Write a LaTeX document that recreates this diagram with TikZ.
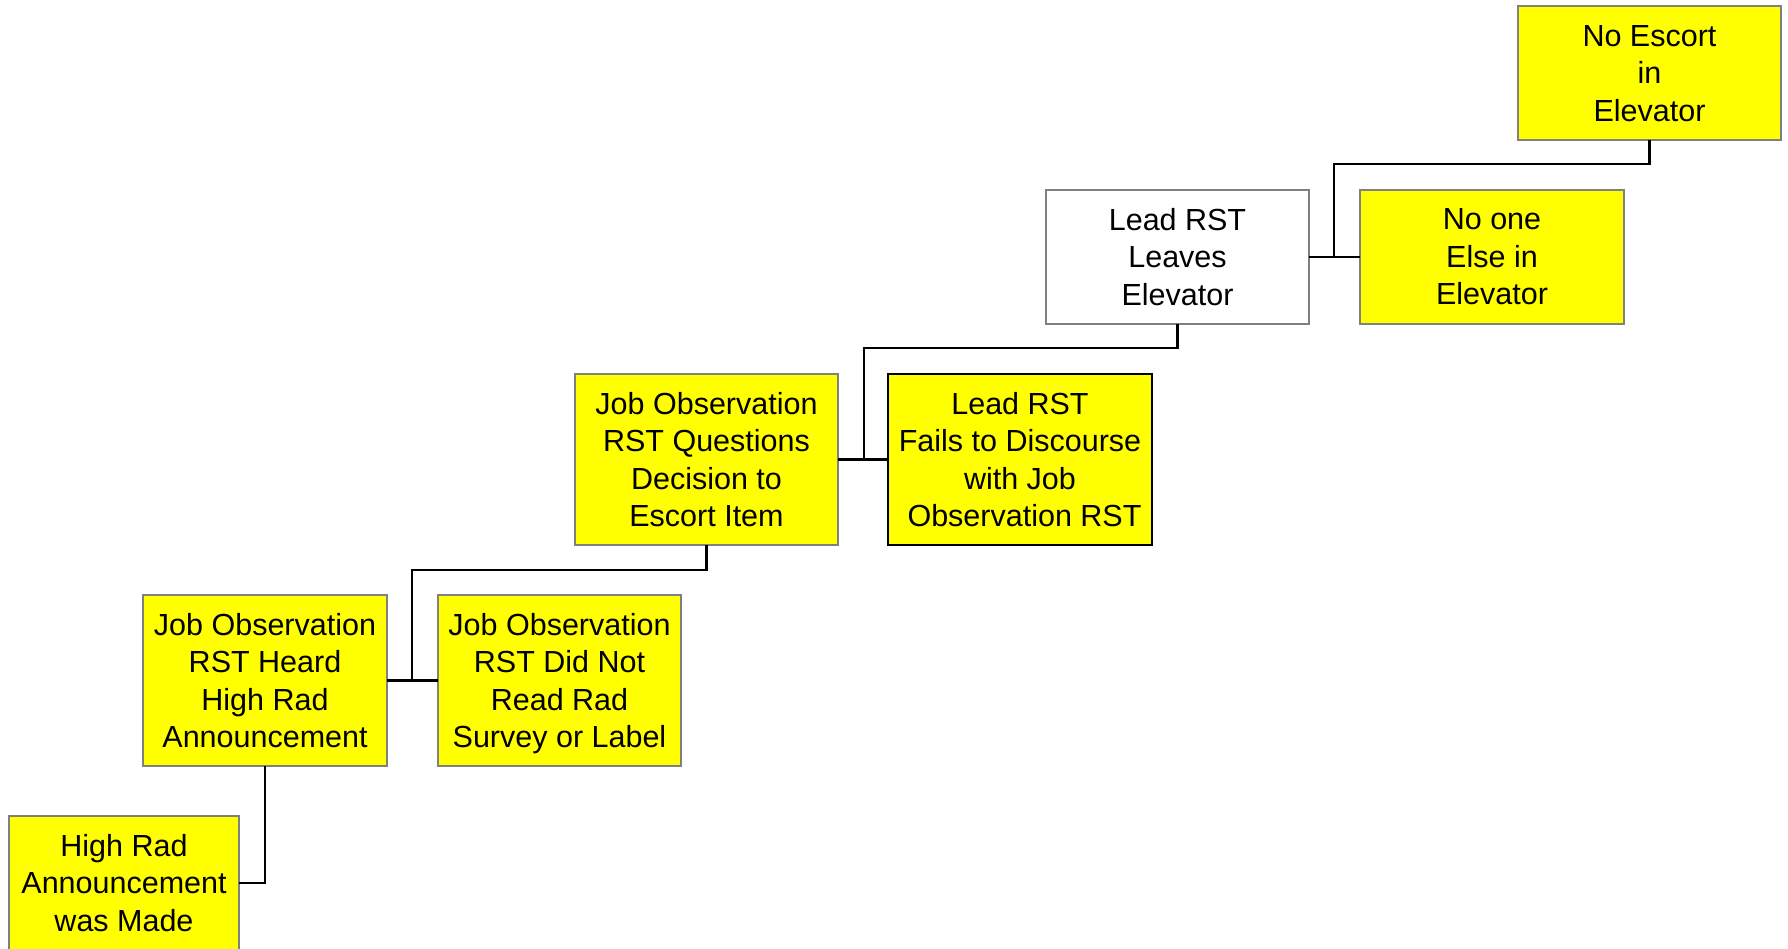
\documentclass[tikz,border=0pt]{standalone}
\usepackage{fontspec}
\setmainfont{Liberation Sans}
\definecolor{boxyellow}{RGB}{255,255,0}
\definecolor{boxgray}{RGB}{128,128,128}

\begin{document}
\begin{tikzpicture}[x=1pt,y=-1pt,line cap=rect,
		evbox/.style={draw=boxgray,line width=2pt,fill=boxyellow,align=center,inner sep=0pt,
			font=\fontsize{30.5}{37.5}\selectfont,minimum width=263pt,minimum height=134pt},
		whitebox/.style={evbox,fill=white},
		tall/.style={minimum height=171pt},
		link/.style={line width=2.5pt,black}]
				\clip (0,0) rectangle (1788,949);
				% top level
				\node[evbox] (escort) at (1649.5,73.5) {No Escort\\in\\Elevator};
				\node[whitebox] (leaves) at (1177.5,257) {Lead RST\\Leaves\\Elevator};
				\node[evbox,minimum width=264pt] (noone) at (1492,257) {No one\\Else in\\Elevator};
				% second level
				\node[evbox,tall] (questions) at (706.5,459.5) {Job Observation\\RST Questions\\Decision to\\Escort Item};
				\node[evbox,tall,draw=black,minimum width=264pt] (fails) at (1020,459.5) {Lead RST\\Fails to Discourse\\with Job\\\hspace*{9pt}Observation RST};
				% third level
				\node[evbox,tall,minimum width=244pt] (heard) at (265,680.5) {Job Observation\\RST Heard\\High Rad\\Announcement};
				\node[evbox,tall,minimum width=243pt] (didnot) at (559.5,680.5) {Job Observation\\RST Did Not\\Read Rad\\\smash{Survey or Label}};
				\node[evbox,minimum width=230pt] (made) at (124,883) {High Rad\\Announcement\\was Made};
				% junctions
				\coordinate (k1) at (1334,164);
				\coordinate (j1) at (1334,257);
				\coordinate (k2) at (864,348);
				\coordinate (j2) at (864,459.5);
				\coordinate (k3) at (412,570);
				\coordinate (j3) at (412,680.5);
				% connectors
				\draw[link] (escort.south) |- (k1) -- (j1);
				\draw[link] (leaves) -- (noone);
				\draw[link] (leaves.south) |- (k2) -- (j2);
				\draw[link] (questions) -- (fails);
				\draw[link] (questions.south) |- (k3) -- (j3);
				\draw[link] (heard) -- (didnot);
				\draw[link] (heard.south) |- (made.east);
			\end{tikzpicture}
\end{document}
